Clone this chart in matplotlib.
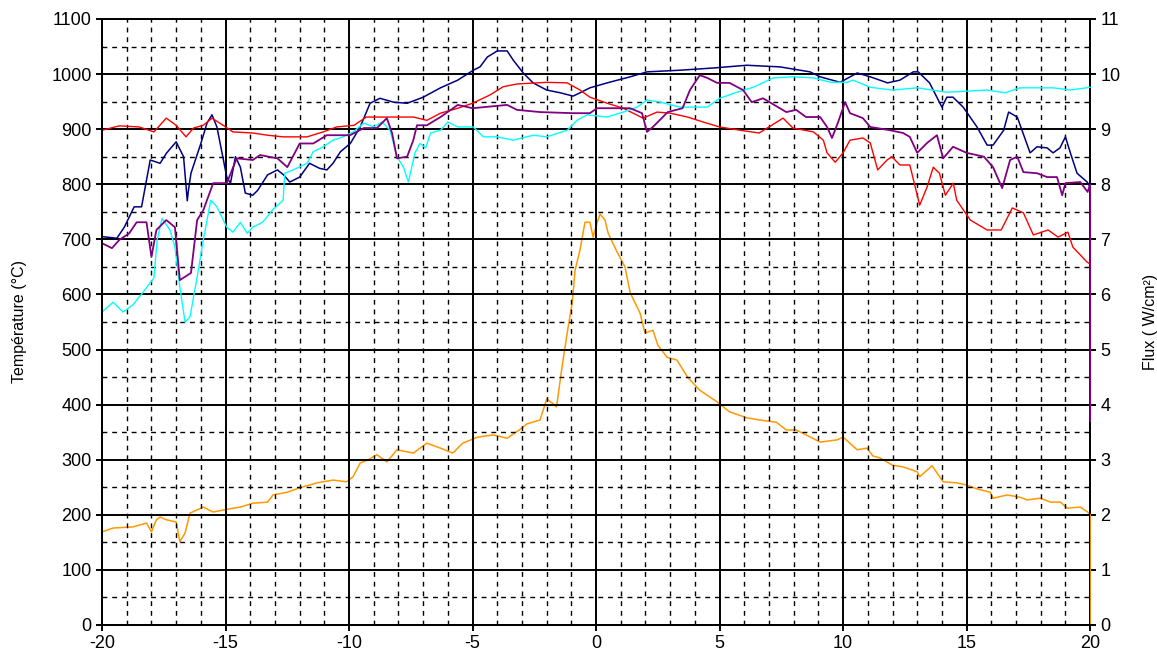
import matplotlib
matplotlib.use("Agg")
import matplotlib.pyplot as plt
from matplotlib.ticker import MultipleLocator

plt.rcParams['font.family'] = ['Liberation Sans', 'DejaVu Sans']
plt.rcParams['axes.unicode_minus'] = False

# temperature series (left axis, °C)
navy_x = [-20, -19.4, -19.1, -18.7, -18.4, -18.05, -17.65, -17.4, -17.0, -16.7, -16.55, -16.5, -16.4,
          -16.0, -15.75, -15.55, -15.35, -14.95, -14.8, -14.6, -14.4, -14.2, -13.9, -13.7, -13.3,
          -12.9, -12.65, -12.4, -12.0, -11.6, -11.2, -10.9, -10.65, -10.35, -9.95, -9.55, -9.15,
          -8.75, -8.2, -7.65, -7.0, -6.3, -5.6, -4.97, -4.7, -4.4, -4.0, -3.6, -3.35, -2.95, -2.55,
          -2.0, -1.45, -0.93, -0.65, -0.25, 0.45, 1.38, 2.06, 3.4, 4.74, 6.1, 7.45, 8.66, 9.07,
          9.88, 10.57, 11.1, 11.8, 12.3, 12.84, 13.04, 13.5, 14.0, 14.2, 14.45, 14.86, 15.42, 15.83,
          16.07, 16.5, 16.7, 17.05, 17.57, 17.85, 18.26, 18.5, 18.78, 19.0, 19.2, 19.47, 19.88, 20]
navy_y = [705, 702, 722, 759, 759, 844, 838, 856, 877, 850, 770, 790, 820,
          874, 911, 926, 904, 813, 802, 850, 831, 784, 780, 789, 817,
          826, 817, 804, 813, 838, 829, 826, 838, 859, 874, 904, 947,
          956, 949, 947, 958, 975, 989, 1007, 1013, 1031, 1042, 1042, 1025, 1002, 984,
          971, 966, 960, 966, 975, 984, 995, 1004, 1007, 1011, 1016, 1013, 1004, 995,
          985, 1002, 995, 984, 989, 1004, 1004, 984, 940, 958, 958, 940, 904, 871,
          871, 898, 931, 922, 857, 868, 866, 857, 866, 886, 857, 820, 804, 795]

red_x = [-20, -19.3, -18.5, -17.9, -17.4, -17.0, -16.6, -16.3, -15.9, -15.55, -15.1, -14.7, -13.9,
         -13.3, -12.67, -11.7, -11.05, -10.5, -9.8, -9.3, -7.4, -6.85, -6.3, -5.6, -5.0, -4.3,
         -3.76, -3.2, -2.0, -1.17, -0.65, -0.25, 0.45, 1.1, 1.9, 2.47, 3.0, 3.7, 4.33, 5.0, 5.83,
         6.6, 7.0, 7.57, 7.97, 8.8, 9.2, 9.35, 9.68, 10.0, 10.28, 10.8, 11.1, 11.4, 11.78, 11.97,
         12.3, 12.7, 13.1, 13.4, 13.65, 13.9, 14.14, 14.46, 14.6, 15.15, 15.83, 16.4, 16.85,
         17.3, 17.7, 18.3, 18.7, 19.1, 19.3, 19.87, 20]
red_y = [898, 906, 904, 895, 920, 907, 886, 902, 907, 920, 907, 895, 893,
         889, 886, 886, 895, 904, 907, 922, 922, 916, 929, 938, 947, 962,
         977, 982, 985, 984, 971, 958, 947, 938, 920, 931, 929, 922, 913, 904, 898,
         893, 904, 920, 902, 895, 880, 857, 840, 857, 880, 884, 875, 826, 844, 850,
         835, 835, 762, 795, 831, 820, 780, 802, 771, 735, 717, 717, 757,
         748, 708, 717, 704, 713, 686, 659, 655]

purple_x = [-20, -19.6, -19.3, -18.9, -18.6, -18.2, -18.0, -17.8, -17.4, -17.05, -16.85, -16.4,
            -16.15, -15.9, -15.5, -14.95, -14.55, -13.9, -13.6, -12.9, -12.5, -12.0, -11.45,
            -10.9, -9.96, -9.4, -8.87, -8.47, -8.26, -8.06, -7.65, -7.4, -7.25, -6.85, -6.3,
            -5.6, -5.0, -3.6, -3.2, -2.26, -0.93, -0.25, 0.04, 1.38, 1.86, 2.06, 2.3, 2.9, 3.5,
            3.8, 4.2, 4.5, 4.9, 5.4, 5.95, 6.3, 6.76, 7.7, 8.1, 8.5, 9.07, 9.35, 9.55, 9.8, 10.08,
            10.28, 10.8, 11.1, 11.9, 12.43, 12.7, 13.0, 13.4, 13.8, 14.05, 14.45, 15.0, 15.7,
            16.07, 16.44, 16.76, 17.05, 17.3, 17.85, 18.26, 18.66, 18.87, 19.0, 19.6, 19.9, 20, 20]
purple_y = [693, 684, 699, 711, 731, 731, 668, 717, 735, 722, 626, 639,
            735, 753, 802, 802, 847, 844, 853, 847, 831, 874, 874,
            889, 889, 902, 902, 920, 893, 847, 850, 880, 907, 907, 922,
            944, 938, 944, 935, 931, 929, 929, 938, 938, 929, 895, 904, 931, 938,
            971, 998, 993, 984, 984, 971, 949, 956, 931, 935, 922, 922, 904, 884, 913, 949,
            929, 920, 904, 898, 893, 886, 857, 875, 889, 847, 868, 857, 850,
            831, 793, 844, 850, 822, 820, 813, 813, 780, 802, 804, 786, 800, 370]

cyan_x = [-20, -19.55, -19.15, -18.75, -18.34, -17.9, -17.77, -17.57, -17.25, -17.05, -16.85,
          -16.64, -16.44, -16.15, -15.9, -15.6, -15.35, -14.95, -14.7, -14.4, -14.13, -13.9,
          -13.5, -13.1, -12.67, -12.6, -12.26, -11.7, -11.45, -11.05, -10.65, -10.24, -9.83,
          -9.4, -9.0, -8.66, -8.34, -8.06, -7.8, -7.6, -7.33, -7.13, -6.9, -6.7, -6.3, -6.0,
          -5.6, -4.97, -4.56, -4.0, -3.35, -2.55, -2.0, -1.17, -0.77, -0.36, 0.45, 1.1, 1.66,
          2.06, 2.6, 3.4, 4.5, 5.0, 5.7, 6.36, 7.17, 7.97, 8.8, 9.5, 10.16, 10.4, 11.1, 12.0,
          13.0, 14.2, 15.83, 16.56, 17.16, 18.5, 19.2, 20]
cyan_y = [568, 586, 568, 581, 604, 630, 699, 738, 717, 686, 613,
          550, 559, 632, 699, 771, 759, 722, 713, 731, 711, 722,
          731, 753, 771, 820, 826, 838, 859, 868, 880, 886, 895,
          911, 904, 913, 898, 850, 831, 804, 857, 874, 866, 893, 898, 913,
          904, 904, 886, 886, 880, 889, 886, 898, 916, 926, 922, 931, 940,
          953, 949, 940, 940, 956, 967, 976, 993, 995, 993, 985, 985, 989, 976, 971,
          975, 967, 971, 966, 975, 975, 971, 976]

# flux series (right axis, W/cm²)
flux_x = [-20, -19.55, -18.75, -18.2, -18.0, -17.8, -17.65, -17.4, -17.0, -16.85, -16.64, -16.44,
          -15.9, -15.5, -14.95, -14.4, -13.9, -13.3, -13.08, -12.5, -12.0, -11.3, -10.65, -10.1,
          -9.84, -9.55, -9.27, -8.87, -8.47, -8.06, -7.4, -6.85, -6.3, -5.8, -5.4, -4.8, -4.17,
          -3.6, -3.08, -2.8, -2.27, -2.0, -1.78, -1.6, -1.38, -1.17, -0.97, -0.85, -0.65, -0.45,
          -0.25, -0.12, 0.04, 0.16, 0.36, 0.49, 0.85, 1.17, 1.38, 1.78, 1.98, 2.3, 2.5, 2.87, 3.27,
          3.7, 4.2, 4.9, 5.4, 6.1, 6.64, 7.3, 7.7, 8.1, 8.5, 9.07, 9.76, 10.0, 10.57, 10.97, 11.2,
          11.5, 12.0, 12.43, 13.0, 13.1, 13.6, 14.05, 14.6, 15.0, 15.42, 15.95, 16.07, 16.64,
          17.16, 17.45, 17.97, 18.4, 18.8, 19.07, 19.6, 19.9, 20, 20, 20]
flux_y = [1.69, 1.76, 1.78, 1.85, 1.69, 1.91, 1.96, 1.91, 1.87, 1.51, 1.67, 2.03,
          2.14, 2.05, 2.10, 2.14, 2.21, 2.23, 2.36, 2.41, 2.49, 2.58, 2.63, 2.60,
          2.69, 2.94, 2.99, 3.09, 2.96, 3.18, 3.12, 3.30, 3.21, 3.12, 3.30, 3.41, 3.45,
          3.39, 3.55, 3.65, 3.72, 4.10, 4.03, 3.96, 4.68, 5.30, 5.84, 6.44, 6.81, 7.31,
          7.31, 7.04, 7.30, 7.46, 7.35, 7.11, 6.77, 6.50, 6.03, 5.66, 5.30, 5.35, 5.08, 4.86, 4.81,
          4.50, 4.26, 4.05, 3.87, 3.76, 3.72, 3.68, 3.54, 3.54, 3.45, 3.32, 3.36, 3.41, 3.18, 3.21, 3.07,
          3.03, 2.90, 2.87, 2.78, 2.69, 2.89, 2.60, 2.58, 2.54, 2.47, 2.41, 2.30, 2.36,
          2.32, 2.27, 2.30, 2.23, 2.23, 2.12, 2.14, 2.05, 2.00, 0.90, 0.0]

fig = plt.figure(figsize=(11.57, 6.68), dpi=100)
ax = fig.add_axes([0.0882, 0.0644, 0.854, 0.9072])
ax2 = ax.twinx()
# temperature axes on top so its curves cover the right spine
ax.set_zorder(ax2.get_zorder() + 1)
ax.patch.set_visible(False)
ax.spines['right'].set_visible(False)

ax.plot(navy_x, navy_y, color='#000080', lw=1.1, clip_on=False)
ax.plot(red_x, red_y, color='#ff0000', lw=1.0, clip_on=False)
ax.plot(cyan_x, cyan_y, color='#00ffff', lw=1.0, clip_on=False)
ax.plot(purple_x, purple_y, color='#800080', lw=1.3, clip_on=False)
ax2.plot(flux_x, flux_y, color='#ff9900', lw=1.1, clip_on=False, zorder=3)

ax.set_xlim(-20, 20)
ax.set_ylim(0, 1100)
ax2.set_ylim(0, 11)
ax.xaxis.set_major_locator(MultipleLocator(5))
ax.xaxis.set_minor_locator(MultipleLocator(1))
ax.yaxis.set_major_locator(MultipleLocator(100))
ax.yaxis.set_minor_locator(MultipleLocator(50))
ax2.yaxis.set_major_locator(MultipleLocator(1))

ax.grid(which='minor', color='black', lw=1.0, ls=(0, (3.5, 3.5)))
ax.grid(which='major', color='black', lw=1.4, ls='-')
ax.set_axisbelow(True)

for a in (ax, ax2):
    for s in a.spines.values():
        s.set_linewidth(1.4)
    a.tick_params(which='major', length=4, width=1.4, labelsize=13, direction='out')
    a.tick_params(which='minor', length=0)

ax.set_ylabel('Température (°C)', fontsize=11.5)
ax.yaxis.set_label_coords(-0.076, 0.5)
ax2.set_ylabel('Flux ( W/cm²)', fontsize=11.5, rotation=90)
ax2.yaxis.set_label_coords(1.054, 0.5)

fig.savefig('out.png', dpi=100)
